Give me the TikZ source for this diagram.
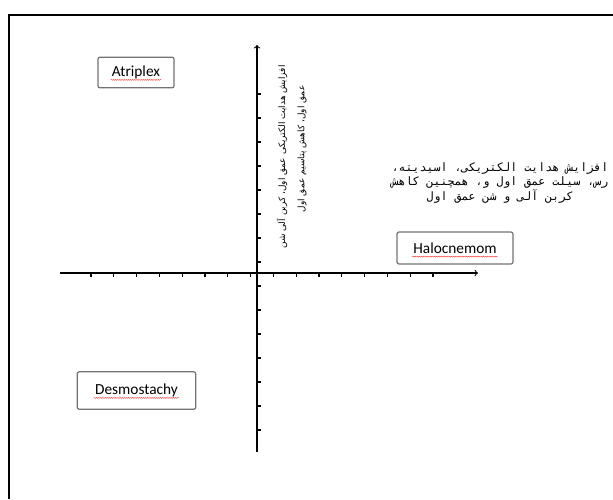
\documentclass[tikz,border=0pt]{standalone}
\usepackage{fontspec}
\setmainfont{Carlito}
\newfontfamily\farsimono[Script=Arabic]{DejaVu Sans Mono}
\newfontfamily\farsi[Script=Arabic]{DejaVu Sans}
\TeXXeTstate=1
\usetikzlibrary{arrows}
\usetikzlibrary{calc}
\usetikzlibrary{decorations.pathmorphing}

\tikzset{
	specbox/.style={draw=black!55, line width=0.9pt, rounded corners=1.5pt, fill=white,
		inner xsep=0pt, minimum height=23pt, font=\fontsize{11.5}{13}\selectfont},
	axisline/.style={line width=0.8pt, ->, >=to},
	axistick/.style={line width=0.9pt},
	vlabel/.style={rotate=90, font=\farsi\fontsize{6.7}{8}\selectfont},
	spellwave/.style={red!75, line width=0.35pt, decorate,
		decoration={snake, amplitude=0.35pt, segment length=1.6pt}}
}

\begin{document}
\begin{tikzpicture}[x=0.75pt, y=-0.75pt]
	\useasboundingbox (0,0) rectangle (613,499);
	%frame
	\draw[line width=2.2pt] (9,499) -- (9,15) -- (613,15);

	\coordinate (xstart) at (60,273);
	\coordinate (xend) at (478,273);
	\coordinate (ystart) at (257,452);
	\coordinate (yend) at (257,45);

	\foreach \i in {0,...,15}
		\draw[axistick] (91+22.8*\i,273) -- (91+22.8*\i,277);
	\foreach \i in {0,...,14}
		\draw[axistick] (257,94+24*\i) -- (261,94+24*\i);

	\draw[axisline] (xstart) -- (xend);
	\draw[axisline] (ystart) -- (yend);

	\node[specbox, minimum width=57pt] at (136,72.5) (atriplex) {Atriplex};
	\node[specbox, minimum width=89pt, minimum height=28pt] at (136.5,390.5) (desmo) {Desmostachy};
	\node[specbox, minimum width=87pt, minimum height=24pt] at (455,248) (halo) {Halocnemom};

	\draw[spellwave] ($(atriplex.base)+(-19pt,-2.5pt)$) -- ($(atriplex.base)+(19pt,-2.5pt)$);
	\draw[spellwave] ($(desmo.base)+(-32pt,-2.5pt)$) -- ($(desmo.base)+(32pt,-2.5pt)$);
	\draw[spellwave] ($(halo.base)+(-32pt,-2.5pt)$) -- ($(halo.base)+(32pt,-2.5pt)$);

	\node[vlabel] at (282,157) (vtexta) {\beginR افزایش هدایت الکتریکی عمق اول، کربن آلی شن\endR};
	\node[vlabel] at (302,149) (vtextb) {\beginR عمق اول، کاهش پتاسیم عمق اول\endR};

	\node[align=center, font=\farsimono\fontsize{8.7}{11.2}\selectfont] at (500,183) (htext)
		{\beginR افزایش هدایت الکتریکی، اسیدیته،\endR\\
		 \beginR رس، سیلت عمق اول و، همچنین کاهش\endR\\
		 \beginR کربن آلی و شن عمق اول\endR};
\end{tikzpicture}
\end{document}
